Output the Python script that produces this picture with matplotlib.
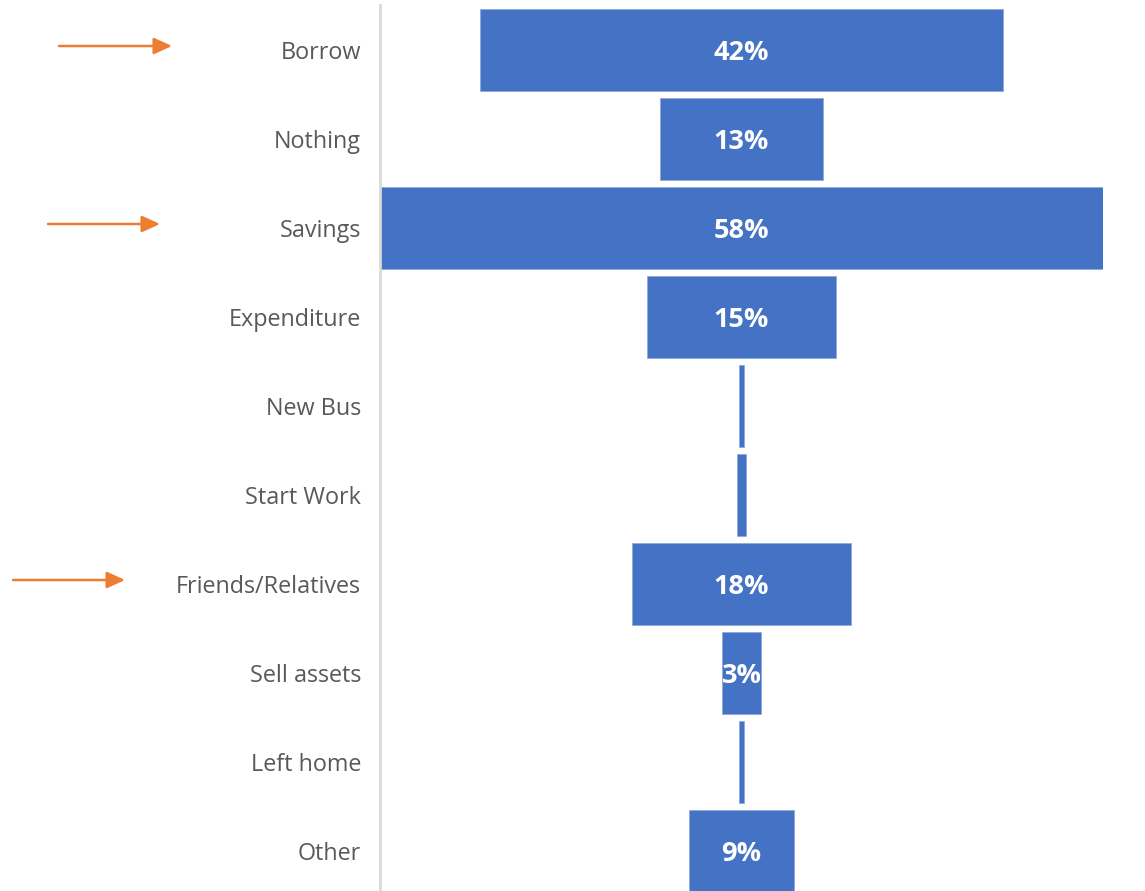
import matplotlib
matplotlib.use("Agg")
import matplotlib.pyplot as plt
import matplotlib.transforms as mtransforms

categories = ["Borrow", "Nothing", "Savings", "Expenditure", "New Bus",
              "Start Work", "Friends/Relatives", "Sell assets", "Left home", "Other"]
values = [42, 13, 58, 15.2, 0.35, 0.7, 17.6, 3.1, 0.4, 8.5]
labels = ["42%", "13%", "58%", "15%", "", "", "18%", "3%", "", "9%"]
highlighted = ["Borrow", "Savings", "Friends/Relatives"]
arrow_x = {"Borrow": (59, 172), "Savings": (48, 160), "Friends/Relatives": (13, 125)}

W, H = 1145, 891
fig = plt.figure(figsize=(W / 100, H / 100), dpi=100)
ax_left, ax_right = 380, 1103
top_px, bottom_px = 5.5, 895.5
ax = fig.add_axes([ax_left / W, (H - bottom_px) / H, (ax_right - ax_left) / W, (bottom_px - top_px) / H])

blue = "#4472C4"
ypos = list(range(len(categories)))
lefts = [-v / 2 for v in values]
ax.barh(ypos, values, left=lefts, height=0.93, color=blue, edgecolor="#8FAADC", linewidth=0.6)

for y, v, lab in zip(ypos, values, labels):
    if lab:
        ax.text(0, y + 0.03, lab, ha="center", va="center", color="white",
                fontsize=19.5, fontweight="bold", family="Open Sans")

ax.set_xlim(-29, 29)
ax.set_ylim(len(categories) - 0.5, -0.5)
ax.set_yticks(ypos)
ax.set_yticklabels(categories, family="Open Sans", fontsize=16.8, color="#595959")
ax.tick_params(axis="y", length=0, pad=13.5)
ax.set_xticks([])
for s in ["top", "right", "bottom"]:
    ax.spines[s].set_visible(False)
ax.spines["left"].set_color("#D9D9D9")
ax.spines["left"].set_linewidth(2)

trans = mtransforms.blended_transform_factory(fig.transFigure, ax.transData)
for cat in highlighted:
    y = categories.index(cat) - 0.045
    x0, x1 = arrow_x[cat]
    ax.annotate("", xy=(x1 / W, y), xytext=(x0 / W, y), xycoords=trans, textcoords=trans,
                arrowprops=dict(arrowstyle="-|>,head_length=1.1,head_width=0.5",
                                color="#ED7D31", lw=1.8, shrinkA=0, shrinkB=0),
                annotation_clip=False)

fig.savefig("out.png", dpi=100)
